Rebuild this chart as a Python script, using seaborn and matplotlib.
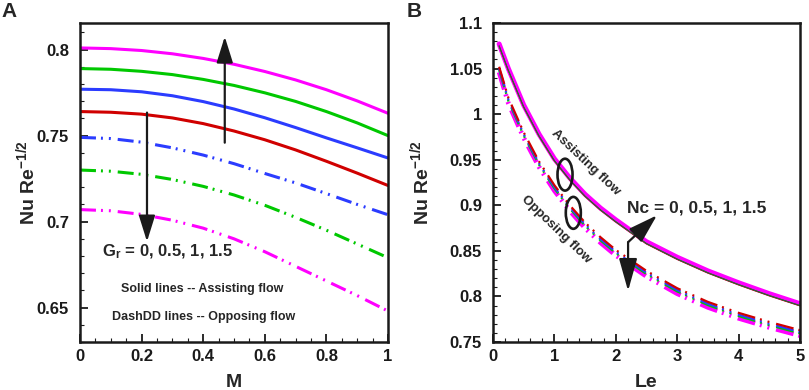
# Nu Re^-1/2 vs M (A) and vs Le (B), assisting / opposing flow

import matplotlib
matplotlib.use('Agg')
import matplotlib.pyplot as plt
from matplotlib.patches import Ellipse
from matplotlib.ticker import MultipleLocator, FormatStrFormatter
import numpy as np
import pandas as pd
import seaborn as sns

# ---- panel A data (Gr = 0, 0.5, 1, 1.5)
M = [0, 0.1, 0.2, 0.3, 0.4, 0.5, 0.6, 0.7, 0.8, 0.9, 1.0]
a_red = [0.764, 0.7636, 0.7625, 0.7603, 0.7570, 0.7527, 0.7476, 0.7417, 0.7351, 0.7282, 0.721]
a_blue = [0.777, 0.7767, 0.7755, 0.7732, 0.7698, 0.7655, 0.7604, 0.7547, 0.7487, 0.7429, 0.737]
a_green = [0.789, 0.7886, 0.7874, 0.7855, 0.7827, 0.7792, 0.7749, 0.7699, 0.764, 0.7574, 0.750]
a_magenta = [0.801, 0.8006, 0.7995, 0.7976, 0.7949, 0.7915, 0.7873, 0.7824, 0.7767, 0.7702, 0.763]
o_blue = [0.749, 0.7483, 0.7462, 0.7429, 0.7387, 0.7337, 0.728, 0.7225, 0.7163, 0.7100, 0.704]
o_green = [0.730, 0.7293, 0.7275, 0.7245, 0.7205, 0.7155, 0.7095, 0.7025, 0.695, 0.687, 0.679]
o_magenta = [0.707, 0.7063, 0.7042, 0.7008, 0.6962, 0.6900, 0.6825, 0.6740, 0.6655, 0.6570, 0.648]

# ---- panel B data (Nc = 0, 0.5, 1, 1.5)
Le = [0.1, 0.25, 0.5, 0.75, 1.0, 1.25, 1.5, 1.75, 2.0, 2.5, 3.0, 3.5, 4.0, 4.5, 5.0]
b_as_magenta = [1.077, 1.050, 1.010, 0.978, 0.951, 0.930, 0.912, 0.897, 0.884, 0.860, 0.843, 0.828, 0.815, 0.803, 0.792]
b_as_red = [1.0745, 1.0475, 1.0075, 0.9755, 0.9485, 0.9275, 0.9095, 0.8945, 0.8815, 0.8575, 0.8405, 0.8255, 0.8125, 0.8005, 0.7895]
b_as_green = [1.075, 1.048, 1.008, 0.976, 0.949, 0.928, 0.910, 0.895, 0.882, 0.858, 0.841, 0.826, 0.813, 0.801, 0.790]
b_as_blue = [1.075, 1.048, 1.008, 0.976, 0.949, 0.928, 0.910, 0.895, 0.882, 0.858, 0.841, 0.826, 0.813, 0.801, 0.790]
b_op_red = [1.052, 1.018, 0.980, 0.948, 0.922, 0.900, 0.881, 0.865, 0.851, 0.828, 0.809, 0.794, 0.782, 0.772, 0.763]
b_op_blue = [1.050, 1.016, 0.978, 0.946, 0.920, 0.898, 0.879, 0.863, 0.849, 0.826, 0.807, 0.792, 0.780, 0.770, 0.761]
b_op_green = [1.0485, 1.0145, 0.9765, 0.9445, 0.9185, 0.8965, 0.8775, 0.8615, 0.8475, 0.8245, 0.8055, 0.7905, 0.7785, 0.7685, 0.7595]
b_op_magenta = [1.046, 1.012, 0.974, 0.942, 0.916, 0.894, 0.875, 0.859, 0.845, 0.822, 0.803, 0.788, 0.776, 0.766, 0.757]

RED, GREEN, BLUE, MAG = '#d00000', '#00c800', '#2b3cff', '#ff00ff'

sns.set_theme(style='white')
plt.rcParams['font.family'] = ['Liberation Sans', 'DejaVu Sans']
plt.rcParams['font.weight'] = 'bold'
plt.rcParams['mathtext.fontset'] = 'custom'
plt.rcParams['mathtext.rm'] = 'Liberation Sans:bold'
plt.rcParams['mathtext.bf'] = 'Liberation Sans:bold'
plt.rcParams['mathtext.default'] = 'bf'


def dashdd(lw, dash=11.5):
    # long dash, dot, dot  (pattern given in points, divided by lw)
    return (0, (dash / lw, 3.6 / lw, 1.4 / lw, 4.3 / lw, 1.4 / lw, 5.0 / lw))


def style_axes(ax):
    for s in ax.spines.values():
        s.set_linewidth(1.8)
        s.set_color('k')
    ax.tick_params(which='both', direction='in', top=False, right=False,
                   left=True, bottom=True, colors='k', labelsize=12)
    ax.tick_params(which='major', length=6, width=1.3)
    ax.tick_params(which='minor', length=3, width=0.8)
    ax.tick_params(axis='y', pad=8)
    ax.tick_params(axis='x', pad=5)
    ax.yaxis.set_major_formatter(FormatStrFormatter('%g'))
    ax.xaxis.set_major_formatter(FormatStrFormatter('%g'))
    for lab in ax.get_xticklabels() + ax.get_yticklabels():
        lab.set_fontweight('bold')


def arrow(ax, start, end, hl=0.8, hw=0.25, lw=1.6):
    ax.annotate('', xy=end, xytext=start,
                arrowprops=dict(arrowstyle='-|>,head_length=%s,head_width=%s' % (hl, hw),
                                color='k', lw=lw, mutation_scale=20,
                                shrinkA=0, shrinkB=0))


f = plt.figure(figsize=(8.09, 3.9), dpi=100)
ax1 = f.add_axes([80 / 809, 1 - 342 / 390, 308 / 809, 319 / 390])
ax2 = f.add_axes([493 / 809, 1 - 342 / 390, 307 / 809, 319 / 390])

# ---------------- panel A
lwA = 2.2
for y, c in [(a_magenta, MAG), (a_green, GREEN), (a_blue, BLUE), (a_red, RED)]:
    sns.lineplot(x=M, y=y, ax=ax1, color=c, lw=lwA, sort=False)
for y, c in [(o_blue, BLUE), (o_green, GREEN), (o_magenta, MAG)]:
    sns.lineplot(x=M, y=y, ax=ax1, color=c, lw=lwA, linestyle=dashdd(lwA), sort=False)

ax1.set_xlim(0, 1)
ax1.set_ylim(0.63, 0.8155)
ax1.xaxis.set_major_locator(MultipleLocator(0.2))
ax1.xaxis.set_minor_locator(MultipleLocator(0.05))
ax1.yaxis.set_major_locator(MultipleLocator(0.05))
ax1.yaxis.set_minor_locator(MultipleLocator(0.01))
style_axes(ax1)
ax1.set_xlabel('M', fontsize=14, fontweight='bold')
ax1.set_ylabel(r'Nu Re$^{-1/2}$', fontsize=14, fontweight='bold')
ax1.xaxis.set_label_coords(0.5, -0.1)
ax1.yaxis.set_label_coords(-0.135, 0.5)

arrow(ax1, (0.47, 0.7459), (0.47, 0.8076))
arrow(ax1, (0.2175, 0.7634), (0.2175, 0.6884))
ax1.text(0.0714, 0.6826, r'G$_\mathbf{r}$ = 0, 0.5, 1, 1.5', fontsize=12,
         fontweight='bold', ha='left', va='center')
ax1.text(0.396, 0.661, 'Solid lines -- Assisting flow', fontsize=9,
         fontweight='bold', ha='center', va='center')
ax1.text(0.403, 0.6448, 'DashDD lines -- Opposing flow', fontsize=9,
         fontweight='bold', ha='center', va='center')

# ---------------- panel B
sns.lineplot(x=Le, y=b_as_magenta, ax=ax2, color=MAG, lw=3.6, sort=False)
for y, c in [(b_as_red, RED), (b_as_green, GREEN), (b_as_blue, '#3a4a4a')]:
    sns.lineplot(x=Le, y=y, ax=ax2, color=c, lw=0.7, sort=False)
sns.lineplot(x=Le, y=b_op_magenta, ax=ax2, color=MAG, lw=3.4,
             linestyle=dashdd(3.4, 13), sort=False)
for y, c in [(b_op_green, GREEN), (b_op_blue, BLUE), (b_op_red, RED)]:
    sns.lineplot(x=Le, y=y, ax=ax2, color=c, lw=1.6,
                 linestyle=dashdd(1.6, 13), sort=False)

ax2.set_xlim(0, 5)
ax2.set_ylim(0.75, 1.1)
ax2.xaxis.set_major_locator(MultipleLocator(1))
ax2.xaxis.set_minor_locator(MultipleLocator(0.2))
ax2.yaxis.set_major_locator(MultipleLocator(0.05))
ax2.yaxis.set_minor_locator(MultipleLocator(0.01))
style_axes(ax2)
ax2.set_xlabel('Le', fontsize=14, fontweight='bold')
ax2.set_ylabel(r'Nu Re$^{-1/2}$', fontsize=14, fontweight='bold')
ax2.xaxis.set_label_coords(0.5, -0.1)
ax2.yaxis.set_label_coords(-0.2, 0.5)

for (cx, cy) in [(1.173, 0.9336), (1.308, 0.8917)]:
    ax2.add_patch(Ellipse((cx, cy), 0.245, 0.035, fill=False, ec='k', lw=1.9, zorder=5))
ax2.text(1.51, 0.9475, 'Assisting flow', fontsize=9.5, fontweight='bold',
         rotation=-43.5, ha='center', va='center')
ax2.text(1.02, 0.873, 'Opposing flow', fontsize=9.5, fontweight='bold',
         rotation=-44, ha='center', va='center')
ax2.text(2.18, 0.8975, 'Nc = 0, 0.5, 1, 1.5', fontsize=12.5, fontweight='bold',
         ha='left', va='center')
arrow(ax2, (2.2, 0.8595), (2.2, 0.806), hl=1.0, hw=0.28)
arrow(ax2, (2.2, 0.8595), (2.67, 0.889), hl=0.9, hw=0.28)

f.text(0.002, 0.995, 'A', fontsize=15, fontweight='bold', ha='left', va='top')
f.text(407 / 809, 0.995, 'B', fontsize=15, fontweight='bold', ha='left', va='top')

f.savefig('out.png', dpi=100)
